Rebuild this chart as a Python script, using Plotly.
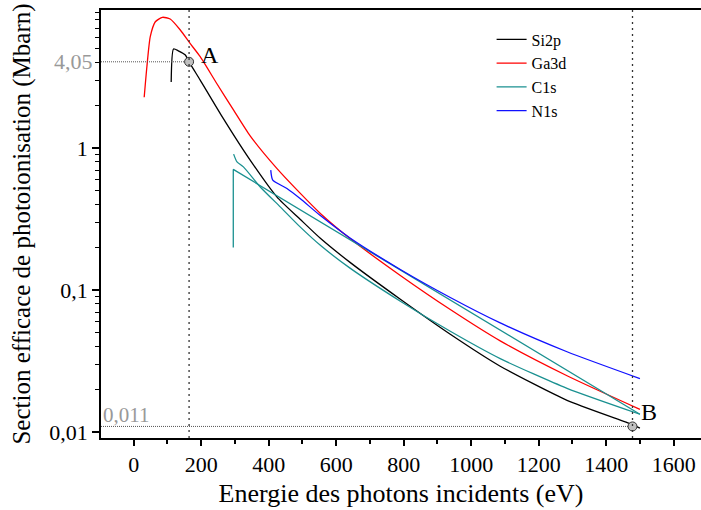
import math
import plotly.graph_objects as go

# ---- data ----
si2p_x = [111, 118, 132, 153, 164, 197, 261, 345, 424, 493, 553, 641, 790, 938, 1086, 1284, 1471, 1500]
si2p_y = [2.92, 4.98, 4.84, 4.52, 4.05, 3.01, 1.68, 0.823, 0.454, 0.316, 0.232, 0.157, 0.0864, 0.0490, 0.0292, 0.0168, 0.0115, 0.0107]

ga3d_x = [31, 39, 49, 64, 85, 108, 138, 167, 197, 246, 296, 345, 424, 493, 553, 641, 790, 938, 1086, 1284, 1500]
ga3d_y = [2.28, 3.74, 6.08, 7.75, 8.33, 8.10, 6.78, 5.46, 4.40, 2.85, 1.85, 1.22, 0.72, 0.482, 0.347, 0.231, 0.127, 0.0731, 0.044, 0.025, 0.0145]

c1s_a_x = [296, 306, 325, 375, 434, 493, 553, 641, 790, 938, 1086, 1284, 1500]
c1s_a_y = [0.907, 0.80, 0.738, 0.533, 0.386, 0.279, 0.207, 0.143, 0.0837, 0.0514, 0.033, 0.0204, 0.0134]

c1s_b_x = [295, 295, 1500]
c1s_b_y = [0.2, 0.708, 0.0134]

n1s_x = [406, 412, 454, 493, 553, 641, 790, 938, 1086, 1284, 1500]
n1s_y = [0.700, 0.595, 0.520, 0.442, 0.335, 0.233, 0.140, 0.0889, 0.0589, 0.0369, 0.0239]

point_a = (164, 4.05)
point_b = (1478, 0.011)
label_a_val = "4,05"
label_b_val = "0,011"

x_ticks = [0, 200, 400, 600, 800, 1000, 1200, 1400, 1600]
x_minor = [100, 300, 500, 700, 900, 1100, 1300, 1500]
y_ticks = [0.01, 0.1, 1]
y_ticktext = ["0,01", "0,1", "1"]
y_minor = [m * 10 ** e for e in (-2, -1, 0) for m in range(2, 10)]

x_range = [-97, 1681]
y_range = [-2.04, 0.972]

FONT = "Liberation Serif"
TEAL = "#1a9090"

fig = go.Figure()

def line(x, y, name, color, show=True, group=None):
    fig.add_trace(go.Scatter(x=x, y=y, mode="lines", name=name,
                             line=dict(color=color, width=1.3, shape="spline", smoothing=0.6),
                             showlegend=show, legendgroup=group or name))

line(si2p_x, si2p_y, "Si2p", "black")
line(ga3d_x, ga3d_y, "Ga3d", "red")
line(c1s_a_x, c1s_a_y, "C1s", TEAL)
fig.add_trace(go.Scatter(x=c1s_b_x, y=c1s_b_y, mode="lines", name="C1s",
                         line=dict(color=TEAL, width=1.3), showlegend=False,
                         legendgroup="C1s"))
line(n1s_x, n1s_y, "N1s", "#1010ff")

# horizontal dotted guides from the y axis to A and B
for (px, py) in (point_a, point_b):
    fig.add_trace(go.Scatter(x=[x_range[0], px], y=[py, py], mode="lines",
                             line=dict(color="#555555", width=1, dash="1px,1px"),
                             showlegend=False, hoverinfo="skip"))

# vertical dotted guides
for px in (point_a[0], point_b[0]):
    fig.add_shape(type="line", xref="x", yref="paper", x0=px, x1=px, y0=0, y1=1,
                  line=dict(color="#333333", width=1.3, dash="2px,4px"))

fig.add_trace(go.Scatter(x=[point_a[0], point_b[0]], y=[point_a[1], point_b[1]],
                         mode="markers", showlegend=False,
                         marker=dict(size=9, color="#c0c0c0",
                                     line=dict(color="#333333", width=1))))

# annotations
fig.add_annotation(x=point_a[0], y=math.log10(point_a[1]), text="A", showarrow=False,
                   xanchor="left", yanchor="middle", xshift=10, yshift=7,
                   font=dict(size=24, family=FONT, color="black"))
fig.add_annotation(x=point_b[0], y=math.log10(point_b[1]), text="B", showarrow=False,
                   xanchor="left", yanchor="middle", xshift=6, yshift=14,
                   font=dict(size=24, family=FONT, color="black"))
fig.add_annotation(xref="paper", x=0, y=math.log10(point_a[1]), text=label_a_val,
                   showarrow=False, xanchor="right", yanchor="middle", xshift=-6,
                   font=dict(size=22, family=FONT, color="#999999"))
fig.add_annotation(xref="paper", x=0, y=math.log10(point_b[1]), text=label_b_val,
                   showarrow=False, xanchor="left", yanchor="bottom", xshift=0, yshift=-3,
                   font=dict(size=21, family=FONT, color="#999999"))

fig.update_layout(
    width=701, height=510,
    margin=dict(l=101, r=0, t=10, b=72),
    plot_bgcolor="white", paper_bgcolor="white",
    font=dict(family=FONT, size=22, color="black"),
    legend=dict(x=0.651, y=0.971, xanchor="left", yanchor="top",
                font=dict(size=16, family=FONT), bgcolor="rgba(0,0,0,0)",
                tracegroupgap=0),
)
fig.update_xaxes(range=x_range, tickmode="array", tickvals=x_ticks, automargin=False,
                 ticks="outside", ticklen=6, tickwidth=1.5, tickcolor="black",
                 showline=True, linewidth=1.5, linecolor="black", mirror=True,
                 showgrid=False, zeroline=False,
                 tickfont=dict(family=FONT, size=22),
                 minor=dict(tickmode="array", tickvals=x_minor, ticks="outside",
                            ticklen=4, tickwidth=1.5, tickcolor="black", showgrid=False),
                 title=dict(text="Energie des photons incidents (eV)",
                            font=dict(size=26, family=FONT), standoff=8))
fig.update_yaxes(type="log", range=y_range, tickmode="array", tickvals=y_ticks,
                 ticktext=y_ticktext, ticks="outside", ticklen=7, tickwidth=1.5,
                 automargin=False,
                 tickcolor="black", showline=True, linewidth=1.5, linecolor="black",
                 mirror=False, showgrid=False, zeroline=False,
                 tickfont=dict(family=FONT, size=22),
                 minor=dict(tickmode="array", tickvals=y_minor, ticks="outside",
                            ticklen=4, tickwidth=1.2, tickcolor="black", showgrid=False),
                 title=dict(text="Section efficace de photoionisation (Mbarn)",
                            font=dict(size=25, family=FONT), standoff=12))

fig.write_html("out.html", config={"displayModeBar": False},
               post_script="document.body.style.margin='0';document.body.style.overflow='hidden';")
